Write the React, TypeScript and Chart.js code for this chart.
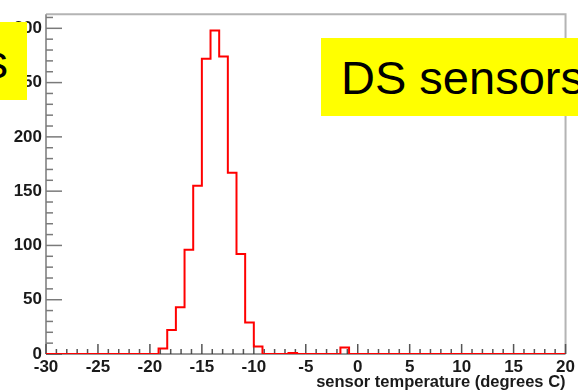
import React, { useEffect, useRef } from "react";
import { Chart, registerables } from "chart.js";

Chart.register(...registerables);

// ---- data ----
const X_MIN = -30;
const X_MAX = 20;
const BIN_WIDTH = 5 / 6; // 60 bins over [-30, 20]
const Y_MIN = 0;
const Y_MAX = 313;

const binCounts = [
  0, 0, 0, 0, 0, 0, 0, 0, 0, 0,
  0, 0, 0, 5, 22, 43, 96, 155, 272, 298,
  274, 167, 92, 29, 7, 0, 0, 0, 1, 0,
  0, 0, 0, 0, 6, 0, 0, 0, 0, 0,
  0, 0, 0, 0, 0, 0, 0, 0, 0, 0,
  0, 0, 0, 0, 0, 0, 0, 0, 0, 0,
];

const xMajorStep = 5;
const xMinorStep = 1;
const yMajorStep = 50;
const yMinorStep = 10;

const xTitle = "sensor temperature (degrees C)";
const leftBoxText = "US sensors";
const rightBoxText = "DS sensors";

const FONT = '"Liberation Sans", Arial, Helvetica, sans-serif';

const histPoints = Array.from({ length: binCounts.length + 1 }, (_, i) => ({
  x: X_MIN + i * BIN_WIDTH,
  y: i < binCounts.length ? binCounts[i] : binCounts[binCounts.length - 1],
}));

const rootAxesPlugin = {
  id: "rootAxes",
  beforeDatasetsDraw(chart: any) {
    const { ctx, chartArea: a, scales } = chart;
    const xs = scales.x;
    const ys = scales.y;
    ctx.save();
    // frame (top + right)
    ctx.strokeStyle = "#b4b4b4";
    ctx.lineWidth = 2;
    ctx.beginPath();
    ctx.moveTo(a.left, a.top);
    ctx.lineTo(a.right, a.top);
    ctx.lineTo(a.right, a.bottom);
    ctx.stroke();
    // left axis
    ctx.strokeStyle = "#9a9a9a";
    ctx.beginPath();
    ctx.moveTo(a.left, a.top);
    ctx.lineTo(a.left, a.bottom);
    ctx.stroke();
    // y ticks (inward)
    ctx.strokeStyle = "#7a7a7a";
    ctx.lineWidth = 1.5;
    for (let v = Y_MIN; v <= Y_MAX; v += yMinorStep) {
      const y = ys.getPixelForValue(v);
      const len = v % yMajorStep === 0 ? 16 : 7;
      ctx.beginPath();
      ctx.moveTo(a.left, y);
      ctx.lineTo(a.left + len, y);
      ctx.stroke();
    }
    // x ticks (inward)
    ctx.strokeStyle = "#555";
    for (let v = X_MIN; v <= X_MAX; v += xMinorStep) {
      const x = xs.getPixelForValue(v);
      const len = v % xMajorStep === 0 ? 10 : 5;
      ctx.beginPath();
      ctx.moveTo(x, a.bottom);
      ctx.lineTo(x, a.bottom - len);
      ctx.stroke();
    }
    // bottom axis
    ctx.strokeStyle = "#333";
    ctx.lineWidth = 1;
    ctx.beginPath();
    ctx.moveTo(a.left, a.bottom);
    ctx.lineTo(a.right, a.bottom);
    ctx.stroke();
    ctx.restore();
  },
};

export default function App() {
  const canvasRef = useRef<HTMLCanvasElement | null>(null);

  useEffect(() => {
    if (!canvasRef.current) return;
    const chart = new Chart(canvasRef.current, {
      type: "line",
      data: {
        datasets: [
          {
            data: histPoints,
            stepped: true,
            borderColor: "#ff0000",
            borderWidth: 2,
            pointRadius: 0,
            fill: false,
          },
        ],
      },
      options: {
        responsive: false,
        animation: false,
        layout: { padding: { top: 8, right: 10, left: 0, bottom: 0 } },
        plugins: { legend: { display: false }, tooltip: { enabled: false } },
        scales: {
          x: {
            type: "linear",
            min: X_MIN,
            max: X_MAX,
            grid: { display: false, drawTicks: false },
            border: { display: false },
            ticks: {
              stepSize: xMajorStep,
              padding: 3,
              maxRotation: 0,
              autoSkip: false,
              color: "#1a1a1a",
              font: { family: FONT, size: 17, weight: "bold" },
              callback: (v: any) => String(v),
            },
            title: {
              display: true,
              text: xTitle,
              align: "end",
              color: "#1a1a1a",
              padding: 0,
              font: { family: FONT, size: 16.5, weight: "bold" },
            },
            afterFit(s: any) {
              s.height = 38;
            },
          },
          y: {
            type: "linear",
            min: Y_MIN,
            max: Y_MAX,
            grid: { display: false, drawTicks: false },
            border: { display: false },
            ticks: {
              stepSize: yMajorStep,
              includeBounds: false,
              padding: 4,
              color: "#1a1a1a",
              font: { family: FONT, size: 17, weight: "bold" },
              callback: (v: any) => String(v),
            },
            afterFit(s: any) {
              s.width = 46;
            },
          },
        },
      },
      plugins: [rootAxesPlugin],
    } as any);
    return () => chart.destroy();
  }, []);

  const boxText: React.CSSProperties = {
    position: "absolute",
    top: 16,
    fontFamily: FONT,
    fontSize: 47,
    lineHeight: "47px",
    color: "#000",
    whiteSpace: "nowrap",
  };

  return (
    <div
      style={{
        position: "fixed",
        left: 0,
        top: 0,
        width: 578,
        height: 392,
        overflow: "hidden",
        background: "#fff",
      }}
    >
      <canvas ref={canvasRef} width={578} height={392} style={{ display: "block" }} />
      <div
        style={{
          position: "absolute",
          left: 0,
          top: 22,
          width: 27,
          height: 78,
          background: "#ffff00",
          overflow: "hidden",
        }}
      >
        <div style={{ ...boxText, right: 19 }}>{leftBoxText}</div>
      </div>
      <div
        style={{
          position: "absolute",
          left: 321,
          top: 38,
          width: 257,
          height: 78,
          background: "#ffff00",
          overflow: "hidden",
        }}
      >
        <div style={{ ...boxText, left: 20 }}>{rightBoxText}</div>
      </div>
    </div>
  );
}
